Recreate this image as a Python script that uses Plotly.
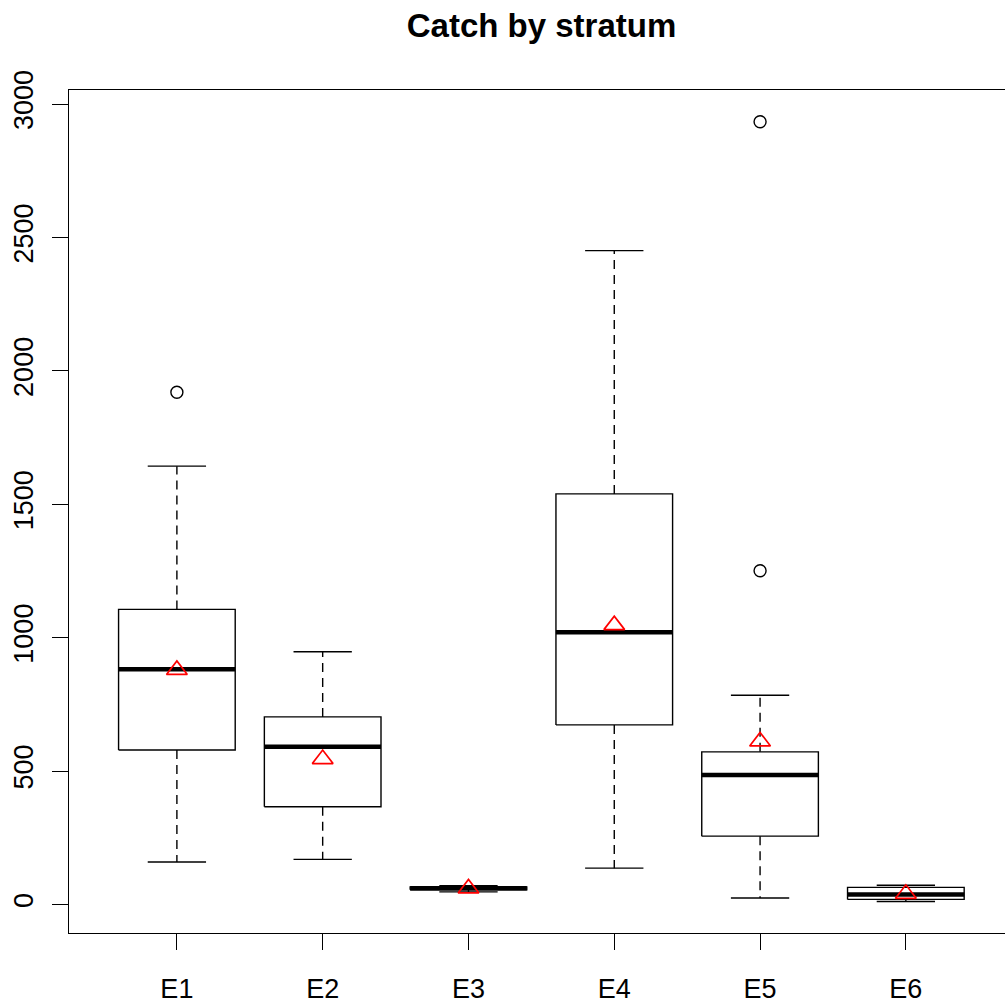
import plotly.graph_objects as go

categories = ["E1", "E2", "E3", "E4", "E5", "E6"]
lower_whisker = [159, 169, 47, 136, 24, 11]
q1 = [579, 366, 55, 673, 256, 19]
median = [882, 591, 61, 1020, 485, 37]
q3 = [1106, 703, 66, 1539, 572, 64]
upper_whisker = [1643, 947, 70, 2451, 784, 72]
means = [879, 545, 60, 1047, 611, 40]
outlier_cat = ["E1", "E5", "E5"]
outlier_val = [1920, 1251, 2934]
y_ticks = [0, 500, 1000, 1500, 2000, 2500, 3000]

BOX_HALF = 0.4
CAP_HALF = 0.2
FONT = "Liberation Sans, Arial, sans-serif"

fig = go.Figure()

def add_line(xs, ys, width=1.4, dash=None):
    fig.add_trace(go.Scatter(
        x=xs, y=ys, mode="lines", showlegend=False, hoverinfo="skip",
        line=dict(color="black", width=width, dash=dash),
    ))

for i, cat in enumerate(categories):
    xc = i + 1
    # whiskers (dashed)
    add_line([xc, xc], [q3[i], upper_whisker[i]], dash="9px,6px")
    add_line([xc, xc], [q1[i], lower_whisker[i]], dash="9px,6px")
    # caps
    add_line([xc - CAP_HALF, xc + CAP_HALF], [upper_whisker[i]] * 2)
    add_line([xc - CAP_HALF, xc + CAP_HALF], [lower_whisker[i]] * 2)
    # box
    add_line([xc - BOX_HALF, xc + BOX_HALF, xc + BOX_HALF, xc - BOX_HALF, xc - BOX_HALF],
             [q1[i], q1[i], q3[i], q3[i], q1[i]])
    # median
    fig.add_trace(go.Scatter(
        x=[xc - BOX_HALF, xc + BOX_HALF], y=[median[i], median[i]], mode="lines",
        showlegend=False, hoverinfo="skip",
        line=dict(color="black", width=4.5),
    ))

# outliers
fig.add_trace(go.Scatter(
    x=[categories.index(c) + 1 for c in outlier_cat], y=outlier_val, mode="markers",
    showlegend=False,
    marker=dict(symbol="circle-open", size=12, color="black", line=dict(width=1.4)),
))

# means
fig.add_trace(go.Scatter(
    x=[i + 1 for i in range(len(categories))], y=means, mode="markers",
    showlegend=False,
    marker=dict(symbol="triangle-up-open", size=18, color="#FF0000", line=dict(width=1.7)),
))

fig.update_layout(
    width=1005, height=1005,
    margin=dict(l=69, r=0, t=90, b=72),
    plot_bgcolor="white", paper_bgcolor="white",
    font=dict(family=FONT, color="black", size=27),
    title=dict(
        text="<b>Catch by stratum</b>",
        x=(541.5 - 69) / 936, xref="paper", xanchor="center",
        y=1 - 25 / 1005, yref="container", yanchor="middle",
        font=dict(family=FONT, size=33, color="black"),
    ),
    xaxis=dict(
        range=[0.26, 6.68],
        tickmode="array", tickvals=[i + 1 for i in range(len(categories))], ticktext=categories,
        showgrid=False, zeroline=False,
        showline=True, linecolor="black", linewidth=1.4, mirror=True,
        ticks="outside", ticklen=16, tickwidth=1.4, tickcolor="black",
        ticklabelstandoff=15,
    ),
    yaxis=dict(
        range=[-107, 3053],
        tickmode="array", tickvals=y_ticks, ticktext=[str(v) for v in y_ticks],
        tickangle=-90,
        showgrid=False, zeroline=False,
        showline=True, linecolor="black", linewidth=1.4,
        ticks="outside", ticklen=16, tickwidth=1.4, tickcolor="black",
        ticklabelstandoff=8,
    ),
)

fig.write_html("out.html")
